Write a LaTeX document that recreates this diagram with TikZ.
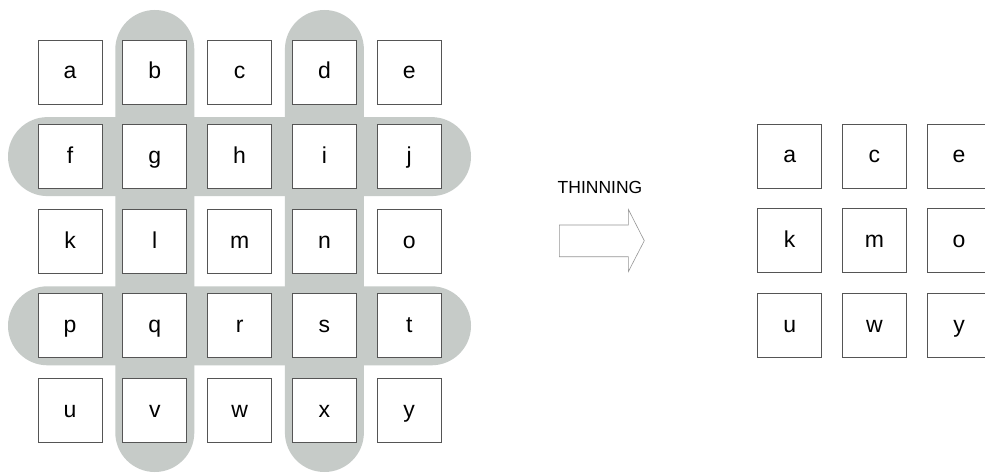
\documentclass[tikz,border=0pt]{standalone}
\usepackage{fontspec}
\setmainfont{Liberation Sans}
\usepackage{tikz}
\usetikzlibrary{positioning}

\definecolor{bandgray}{RGB}{198,203,200}
\definecolor{boxline}{RGB}{85,85,85}
\definecolor{arrowline}{RGB}{150,150,150}

\tikzset{
  cell/.style={draw=boxline, line width=0.8pt, fill=white, minimum size=64pt,
    inner sep=0pt, text height=19pt, text depth=5pt,
    font=\fontsize{23}{26}\selectfont},
  band/.style={fill=bandgray, rounded corners=39.5pt},
}

\begin{document}
\begin{tikzpicture}[x=1pt, y=-1pt]
    \clip (0, 0) rectangle (985, 473);
    \fill[white] (0, 0) rectangle (985, 473);

    % Grey bands: columns b,d and rows f,p
    \foreach \cx in {154.8, 324.4}
        \fill[band] (\cx-39.5, 10) rectangle (\cx+39.5, 472);
    \foreach \cy in {156.6, 325.8}
        \fill[band] (8, \cy-39.5) rectangle (471, \cy+39.5);

    % Left grid, 5x5
    \foreach \name [count=\k from 0] in {a,b,c,d,e,f,g,h,i,j,k,l,m,n,o,p,q,r,s,t,u,v,w,x,y} {
        \pgfmathtruncatemacro{\col}{mod(\k,5)}
        \pgfmathtruncatemacro{\row}{div(\k,5)}
        \node[cell] (\name) at (70+84.8*\col, 72+84.6*\row) {\name};
    }

    % Thinning arrow
    \node[font=\fontsize{17.5}{20}\selectfont] (label) at (600, 187) {THINNING};
    \draw[arrowline, line width=0.6pt]
        (559.3, 225) -- (628.3, 225) -- (628.3, 209.3) -- (644.3, 240.7)
        -- (628.3, 271.7) -- (628.3, 256.7) -- (559.3, 256.7) -- cycle;

    % Right grid, 3x3
    \foreach \name [count=\k from 0] in {a,c,e,k,m,o,u,w,y} {
        \pgfmathtruncatemacro{\col}{mod(\k,3)}
        \pgfmathtruncatemacro{\row}{div(\k,3)}
        \node[cell] (r\name) at (789.7+84.7*\col, 156+84.8*\row) {\name};
    }
\end{tikzpicture}
\end{document}
